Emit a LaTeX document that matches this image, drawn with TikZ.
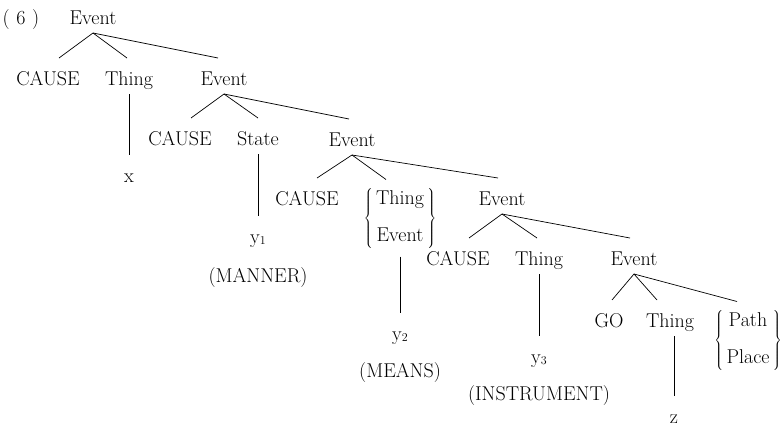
\documentclass[tikz,border=0pt]{standalone}
\newcommand\ysub[1]{\raisebox{-1pt}{\fontsize{12}{12}\selectfont #1}}
\begin{document}
\begin{tikzpicture}[x=1pt,y=-1pt,
  every node/.style={font=\fontsize{20}{24}\selectfont},
  t/.style={inner sep=0pt, text height=18pt, text depth=0pt, outer xsep=0pt, outer ysep=9pt, anchor=base},
  br/.style={inner sep=0pt, outer xsep=0pt, outer ysep=8pt, anchor=center},
  edge/.style={line width=0.7pt}]
\useasboundingbox (0,0) rectangle (784,426);
% labels
\node[t] (num) at (21,24) {(\,\,6\,\,)};
\node[t] (E1) at (93,24) {Event};
\node[t] (C1) at (48,85) {CAUSE};
\node[t] (T1) at (129,85) {Thing};
\node[t] (E2) at (224,85) {Event};
\node[t] (X) at (129,182) {x};
\node[t] (C2) at (180,145) {CAUSE};
\node[t] (S) at (258,145) {State};
\node[t] (E3) at (352,146) {Event};
\node[t] (Y1) at (258,243) {y\ysub{1}};
\node[t] (M1) at (258,282) {(MANNER)};
\node[t] (C3) at (307,205) {CAUSE};
\node[br] (B1) at (400,218) {$\left\{\begin{tabular}{@{\,}c@{\,}}Thing\\[13pt]Event\end{tabular}\right\}$};
\node[t] (E4) at (502,205) {Event};
\node[t] (Y2) at (400,340) {y\ysub{2}};
\node[t] (M2) at (400,377) {(MEANS)};
\node[t] (C4) at (458,265) {CAUSE};
\node[t] (T4) at (539,265) {Thing};
\node[t] (E5) at (634,265) {Event};
\node[t] (Y3) at (539,363) {y\ysub{3}};
\node[t] (M3) at (539,400) {(INSTRUMENT)};
\node[t] (G) at (609,327) {GO};
\node[t] (T5) at (670,327) {Thing};
\node[br] (B2) at (748,340) {$\left\{\begin{tabular}{@{\,}c@{\,}}Path\\[13pt]Place\end{tabular}\right\}$};
\node[t] (Z) at (674,423) {z};
% branches
\draw[edge] ([xshift=11pt]C1.north) -- (E1.south) -- ([xshift=-2pt]T1.north);
\draw[edge] (E1.south) -- ([xshift=-6pt]E2.north);
\draw[edge] (T1.south) -- (X.north);
\draw[edge] ([xshift=11pt]C2.north) -- (E2.south) -- (S.north);
\draw[edge] (E2.south) -- ([xshift=-3pt]E3.north);
\draw[edge] (S.south) -- (Y1.north);
\draw[edge] ([xshift=10pt]C3.north) -- (E3.south) -- ([xshift=-14pt]B1.north);
\draw[edge] (E3.south) -- ([xshift=-4pt]E4.north);
\draw[edge] (B1.south) -- (Y2.north);
\draw[edge] ([xshift=11pt]C4.north) -- (E4.south) -- ([xshift=-2pt]T4.north);
\draw[edge] (E4.south) -- ([xshift=-4pt]E5.north);
\draw[edge] (T4.south) -- (Y3.north);
\draw[edge] ([xshift=3pt]G.north) -- (E5.south) -- ([xshift=-13pt]T5.north);
\draw[edge] (E5.south) -- ([xshift=-11pt]B2.north);
\draw[edge] (T5.south -| Z.north) -- (Z.north);
\end{tikzpicture}
\end{document}
